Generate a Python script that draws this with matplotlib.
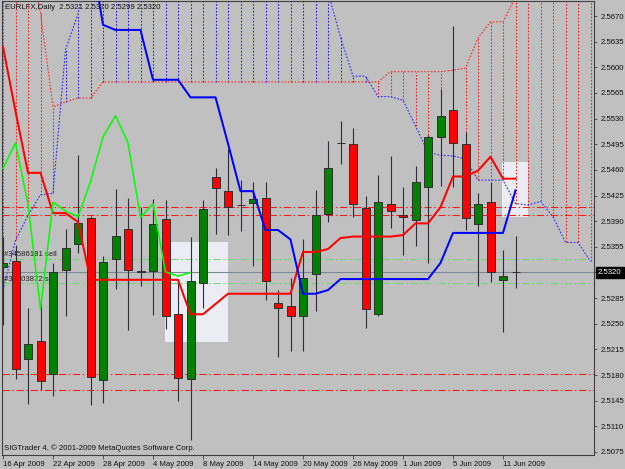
import numpy as np
import pandas as pd
import matplotlib
matplotlib.use('Agg')
import matplotlib.pyplot as plt
import matplotlib.transforms as mtransforms
from matplotlib.patches import Rectangle

# ---------------- data ----------------
dates = pd.bdate_range('2009-04-16', '2009-06-12')

opens = [2.5328, 2.5335, 2.5202, 2.5227, 2.5181, 2.5323, 2.5359, 2.5394, 2.5173, 2.5339,
         2.5379, 2.5322, 2.5322, 2.5393, 2.5264, 2.5174, 2.5305, 2.5450, 2.5431, 2.5412,
         2.5415, 2.5421, 2.5279, 2.5274, 2.5261, 2.5318, 2.5400, 2.5497, 2.5495, 2.5408,
         2.5263, 2.5414, 2.5398, 2.5391, 2.5436, 2.5505, 2.5542, 2.5496, 2.5386, 2.5416,
         2.5310, 2.5321]
highs = [2.5368, 2.5358, 2.5271, 2.5278, 2.5333, 2.5379, 2.5480, 2.5397, 2.5343, 2.5434,
         2.5422, 2.5410, 2.5420, 2.5419, 2.5307, 2.5369, 2.5419, 2.5462, 2.5488, 2.5446,
         2.5443, 2.5443, 2.5296, 2.5312, 2.5366, 2.5432, 2.5500, 2.5527, 2.5517, 2.5424,
         2.5453, 2.5479, 2.5436, 2.5465, 2.5508, 2.5571, 2.5656, 2.5512, 2.5428, 2.5443,
         2.5351, 2.5370]
lows = [2.5248, 2.5174, 2.5140, 2.5160, 2.5151, 2.5261, 2.5346, 2.5139, 2.5142, 2.5297,
        2.5242, 2.5301, 2.5262, 2.5243, 2.5144, 2.5092, 2.5271, 2.5373, 2.5371, 2.5376,
        2.5329, 2.5283, 2.5205, 2.5213, 2.5213, 2.5267, 2.5389, 2.5468, 2.5396, 2.5244,
        2.5260, 2.5381, 2.5344, 2.5356, 2.5333, 2.5438, 2.5437, 2.5378, 2.5301, 2.5307,
        2.5239, 2.5299]
closes = [2.5333, 2.5188, 2.5223, 2.5172, 2.5320, 2.5354, 2.5387, 2.5178, 2.5334, 2.5370,
          2.5324, 2.5321, 2.5386, 2.5261, 2.5176, 2.5309, 2.5407, 2.5435, 2.5409, 2.5412,
          2.5420, 2.5309, 2.5271, 2.5261, 2.5313, 2.5398, 2.5462, 2.5497, 2.5413, 2.5270,
          2.5416, 2.5404, 2.5396, 2.5444, 2.5505, 2.5534, 2.5497, 2.5395, 2.5414, 2.5321,
          2.5315, 2.5320]

tenkan = [2.5628, 2.5540, 2.5456, 2.5456, 2.5401, 2.5401, 2.5389, 2.5310, 2.5310, 2.5310,
          2.5310, 2.5310, 2.5310, 2.5310, 2.5310, 2.5263, 2.5263, 2.5277, 2.5291, 2.5291,
          2.5291, 2.5291, 2.5291, 2.5291, 2.5348, 2.5348, 2.5352, 2.5367, 2.5369, 2.5369,
          2.5369, 2.5369, 2.5371, 2.5387, 2.5387, 2.5409, 2.5451, 2.5451, 2.5459, 2.5478,
          2.5448, 2.5448]
kijun = [np.nan] * 7 + [2.5760, 2.5658, 2.5651, 2.5651, 2.5651, 2.5583, 2.5583, 2.5583,
         2.5559, 2.5559, 2.5559, 2.5496, 2.5431, 2.5431, 2.5378, 2.5378, 2.5365, 2.5291,
         2.5291, 2.5296] + [2.5311] * 8 + [2.5333] + [2.5374] * 5 + [2.5432]

span_a = [2.5760, 2.5760, 2.5760, 2.5674, 2.5546, 2.5553, 2.5558, 2.5558] + [2.5580] * 23 + \
         [2.5594] * 5 + [2.5596, 2.5599, 2.5640, 2.5662, 2.5662, 2.5696] + [2.5720] * 6
span_b = [2.5296, 2.5364, 2.5398, 2.5426, 2.5428, 2.5624, 2.5673] + [2.5760] * 19 + \
         [2.5703, 2.5641, 2.5588, 2.5588, 2.5560, 2.5560, 2.5555, 2.5520, 2.5484, 2.5480,
          2.5479, 2.5475, 2.5446, 2.5446, 2.5446, 2.5414, 2.5412, 2.5417, 2.5396, 2.5361,
          2.5361, 2.5335]

chikou_shift = 26
red_levels = [2.5409, 2.5399, 2.5181, 2.5160]
order_levels = [2.5338, 2.5305]
order_labels = ['#34586181 sell', '#34603872 sell']
current_price = 2.5320
boxes = [(12.94, 18.0, 2.5225, 2.5361), (39.92, 42.0, 2.5396, 2.5471)]
y_ticks = [2.5075, 2.5110, 2.5145, 2.5180, 2.5215, 2.5250, 2.5285, 2.5320, 2.5355,
           2.5390, 2.5425, 2.5460, 2.5495, 2.5530, 2.5565, 2.5600, 2.5635, 2.5670]
header = 'EURLFX,Daily  2.5321 2.5370 2.5299 2.5320'
footer = 'SIGTrader 4, \u00a9 2001-2009 MetaQuotes Software Corp.'

# ---------------- drawing ----------------
FONT = 'Liberation Sans'
FS = 5.6
BG = '#c0c0c0'

fig = plt.figure(figsize=(6.25, 4.69), dpi=100, facecolor=BG)
ax = fig.add_axes([2 / 625, 1 - 455 / 469, 592 / 625, 454 / 469], facecolor=BG)

n = len(closes)
x = np.arange(n)
o = np.array(opens); h = np.array(highs); l = np.array(lows); c = np.array(closes)

# background rectangles
for x0, x1, y0, y1 in boxes:
    ax.add_patch(Rectangle((x0, y0), x1 - x0, y1 - y0, facecolor='#ececf4',
                           edgecolor='none', zorder=0.5))

# cloud hatch
sa = np.array(span_a); sb = np.array(span_b)
cx = np.arange(len(sa))
hatch_cols = ['#ff2020' if a > b else '#2020ff' for a, b in zip(sa, sb)]
ax.vlines(cx, np.minimum(sa, sb), np.maximum(sa, sb), colors=hatch_cols,
          linestyles=(0, (1.6, 1.6)), linewidth=0.75, zorder=1)
ax.plot(cx, sa, color='#ff2020', linestyle=(0, (1.6, 1.6)), linewidth=0.75, zorder=1.1)
ax.plot(cx, sb, color='#2020ff', linestyle=(0, (1.6, 1.6)), linewidth=0.75, zorder=1.1)

# horizontal levels
for lv in red_levels:
    ax.axhline(lv, color='#ff1a1a', linewidth=0.75, linestyle=(0, (7, 2.5, 1.5, 2.5)), zorder=1.5)
for lv, lab in zip(order_levels, order_labels):
    ax.axhline(lv, color='#70d870', linewidth=0.75, linestyle=(0, (7, 2.5, 1.5, 2.5)), zorder=1.5)
    ax.text(0.12, lv + 0.00012, lab, fontsize=FS, family=FONT, color='#202020',
            ha='left', va='bottom', zorder=1.6)
ax.axhline(current_price, color='#7a8898', linewidth=0.8, zorder=1.5)

# candles
wick_col = '#2c2c3c'
ax.vlines(x, l, h, color=wick_col, linewidth=0.8, zorder=2)
body_bottom = np.minimum(o, c)
body_h = np.abs(c - o)
cols = np.where(c > o, '#008000', np.where(c < o, '#ff0000', '#202020'))
ax.bar(x, body_h, bottom=body_bottom, width=0.64, color=cols,
       edgecolor='#303030', linewidth=0.7, zorder=2.1)

# ichimoku lines
ax.plot(x, tenkan, color='#ff0000', linewidth=1.45, zorder=3)
ax.plot(x, kijun, color='#0000ff', linewidth=1.45, zorder=3)
ax.plot(x[:n - chikou_shift], c[chikou_shift:], color='#00ff00', linewidth=1.1, zorder=3)

# axes
ax.set_xlim(-0.08, 47.28)
ax.set_ylim(2.50709, 2.56905)
ax.yaxis.tick_right()
ax.set_yticks(y_ticks)
# the current-price box covers the tick label at the current price
ax.set_yticklabels(['' if abs(v - current_price) < 1e-9 else f'{v:.4f}' for v in y_ticks],
                   fontsize=FS, family=FONT)
tick_pos = x[::4]
ax.set_xticks(tick_pos)
ax.set_xticklabels([f'{d.day} {d:%b %Y}' for d in dates[::4]], fontsize=FS, family=FONT,
                   ha='left')
ax.tick_params(axis='y', direction='out', length=2.5, width=0.6, color='#404040', pad=2.5,
               labelcolor='#101010')
ax.tick_params(axis='x', direction='out', length=3, width=0.6, color='#404040', pad=1.5,
               labelcolor='#101010')
for sp in ax.spines.values():
    sp.set_color('#404040')
    sp.set_linewidth(0.8)

# current price label
trans = mtransforms.blended_transform_factory(ax.transAxes, ax.transData)
ax.text(1.0065, current_price, f'{current_price:.4f}', transform=trans, fontsize=FS,
        family=FONT, color='white', ha='left', va='center', clip_on=False, zorder=10,
        bbox=dict(boxstyle='square,pad=0.3', facecolor='black', edgecolor='black'))

# header / footer texts
ax.text(0.005, 0.985, header, transform=ax.transAxes, fontsize=FS, family=FONT,
        color='#101010', ha='left', va='center', zorder=5)
ax.text(0.004, 0.015, footer, transform=ax.transAxes, fontsize=FS, family=FONT,
        color='#101010', ha='left', va='center', zorder=5)

fig.savefig('out.png', dpi=100, facecolor=BG)
